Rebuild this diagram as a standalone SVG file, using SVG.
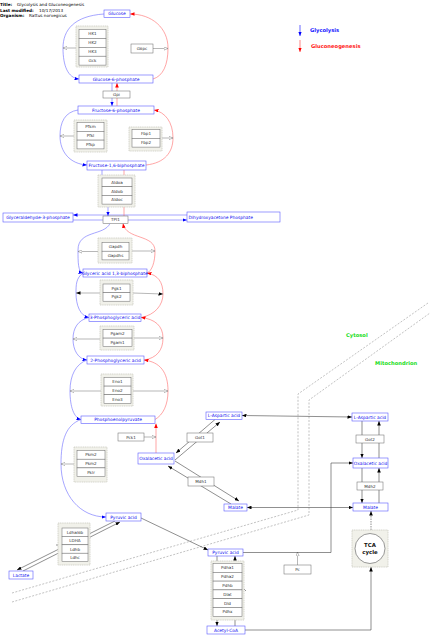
<svg xmlns="http://www.w3.org/2000/svg" width="437" height="641" viewBox="0 0 437 641">
<style>
text{font-family:"DejaVu Sans","Liberation Sans",sans-serif}
.m rect{fill:#fff;stroke:#5a5aff;stroke-width:0.6}
.m text{fill:#1010f0;font-size:4.4px;text-anchor:middle}
.g rect{fill:#fff;stroke:#666;stroke-width:0.5}
.g text{fill:#333;font-size:4.1px;text-anchor:middle}
rect.bg{fill:#f1f1ea;stroke:#cbcbc2;stroke-width:0.8;stroke-dasharray:1.2,0.6}
.b{fill:none;stroke:#6a6aff;stroke-width:0.6}
.r{fill:none;stroke:#ff6a6a;stroke-width:0.6}
.k{fill:none;stroke:#444;stroke-width:0.6}
.c{fill:none;stroke:#888;stroke-width:0.6}
.mem{fill:none;stroke:#999;stroke-width:0.6;stroke-dasharray:2,1.5}
.hdr{font-size:4.2px;fill:#000}
.lb{font-size:5.2px;font-weight:bold}
</style>
<defs>
<marker id="ab" viewBox="0 0 10 8" refX="10" refY="4" markerWidth="4.5" markerHeight="3.6" markerUnits="userSpaceOnUse" orient="auto-start-reverse"><path d="M0,0L10,4L0,8z" fill="#0000ff"/></marker>
<marker id="ar" viewBox="0 0 10 8" refX="10" refY="4" markerWidth="4.5" markerHeight="3.6" markerUnits="userSpaceOnUse" orient="auto-start-reverse"><path d="M0,0L10,4L0,8z" fill="#ff0000"/></marker>
<marker id="ak" viewBox="0 0 10 8" refX="10" refY="4" markerWidth="4.5" markerHeight="3.6" markerUnits="userSpaceOnUse" orient="auto-start-reverse"><path d="M0,0L10,4L0,8z" fill="#000"/></marker>
<marker id="ao" viewBox="-1 -1 12 10" refX="10" refY="4" markerWidth="4.8" markerHeight="4" markerUnits="userSpaceOnUse" orient="auto"><path d="M0,0L10,4L0,8z" fill="#fff" stroke="#666" stroke-width="1"/></marker>
</defs>

<g id="header">
<text class="hdr" x="0" y="6.2"><tspan font-weight="bold">Title:</tspan><tspan x="17">Glycolysis and Gluconeogenesis</tspan></text>
<text class="hdr" x="0" y="11.8"><tspan font-weight="bold">Last modified:</tspan><tspan x="39">10/17/2013</tspan></text>
<text class="hdr" x="0" y="17.3"><tspan font-weight="bold">Organism:</tspan><tspan x="29">Rattus norvegicus</tspan></text>
</g>

<g id="legend">
<line x1="300" y1="25" x2="300" y2="36" stroke="#0000ff" stroke-width="0.6" marker-end="url(#ab)"/>
<text class="lb" x="310" y="31.8" fill="#2020ff">Glycolysis</text>
<line x1="300" y1="40" x2="300" y2="52" stroke="#ff3333" stroke-width="0.6" marker-end="url(#ar)"/>
<text class="lb" x="311" y="47.5" fill="#ff2020">Gluconeogenesis</text>
<text class="lb" x="346" y="337" fill="#22dd22">Cytosol</text>
<text class="lb" x="375" y="365" fill="#22dd22">Mitochondrion</text>
</g>

<g id="membranes">
<path class="mem" d="M12,593 L298,510 L298,394 L428,303"/>
<path class="mem" d="M12,602 L309,515 L309,400 L430,313"/>
</g>

<g id="connectors">
<path class="b" d="M104,14 C74,16 63,30 63,48 C63,66 68,78 79,79" marker-end="url(#ab)"/>
<path class="b" d="M112,83 L112,106" marker-end="url(#ab)"/>
<path class="b" d="M78,110 C65,112 60,122 60,136 C60,152 70,164 87,165" marker-end="url(#ab)"/>
<path class="b" d="M102,170 L102,206 L108,206 L108,216" marker-end="url(#ab)"/>
<path class="b" d="M187,215 L73,215" marker-end="url(#ab)"/>
<path class="b" d="M73,220 L187,220" marker-end="url(#ab)"/>
<path class="b" d="M110,223.5 C104,236 78,230 78,250 C78,262 78,272 83,273" marker-end="url(#ab)"/>
<path class="b" d="M83,273 C76,278 76,285 76,293 C76,305 80,316 89,317.5" marker-end="url(#ab)"/>
<path class="b" d="M89,317.5 C78,320 73,328 73,339 C73,350 78,359 87,360" marker-end="url(#ab)"/>
<path class="b" d="M87,360 C76,364 70,375 70,391 C70,407 74,418 81,419.5" marker-end="url(#ab)"/>
<path class="b" d="M81,419.5 C66,425 61,440 61,464 C61,495 80,517 106,517" marker-end="url(#ab)"/>
<path class="r" d="M153,79 C163,76 168,65 168,48 C168,28 152,14 130,14" marker-end="url(#ar)"/>
<path class="r" d="M117,106 L117,83" marker-end="url(#ar)"/>
<path class="r" d="M146,165 C165,163 173,152 173,138 C173,122 165,112 154,110" marker-end="url(#ar)"/>
<path class="r" d="M124,216 L124,170"/>
<path class="r" d="M147,273 C152,271 155,262 155,251 C155,234 126,240 123,223.5" marker-end="url(#ar)"/>
<path class="r" d="M141,317.5 C155,315 163,305 163,294 C163,282 158,275 147,273" marker-end="url(#ar)"/>
<path class="r" d="M144,360 C157,358 163,350 163,338 C163,326 155,319 141,317.5" marker-end="url(#ar)"/>
<path class="r" d="M155,419.5 C163,415 168,405 168,391 C168,372 160,362 144,360" marker-end="url(#ar)"/>
<path class="r" d="M156,453 L156,423.5" marker-end="url(#ar)"/>
<path class="c" d="M76,48 L63,48" marker-end="url(#ao)"/>
<path class="c" d="M153,48.5 L168,48.5" marker-end="url(#ao)"/>
<path class="c" d="M74,136 L60,136" marker-end="url(#ao)"/>
<path class="c" d="M162,138 L173,138" marker-end="url(#ao)"/>
<path class="c" d="M98,251.5 L78,251.5" marker-end="url(#ao)"/>
<path class="c" d="M132,251 L155,251" marker-end="url(#ao)"/>
<path class="c" d="M100,293 L76,293" marker-end="url(#ak)"/>
<path class="c" d="M133,293 L163,294" marker-end="url(#ak)"/>
<path class="c" d="M100,339 L73,339" marker-end="url(#ao)"/>
<path class="c" d="M134,338 L163,338" marker-end="url(#ao)"/>
<path class="c" d="M101,391 L70,391" marker-end="url(#ao)"/>
<path class="c" d="M133,391 L168,391" marker-end="url(#ao)"/>
<path class="c" d="M74,464 L61,464" marker-end="url(#ao)"/>
<path class="c" d="M144,437 L156,437" marker-end="url(#ao)"/>
<path class="c" d="M297.5,565 L297.5,552" marker-end="url(#ao)"/>
<path class="k" d="M98,191 L100,192.5 M98,193 L100,194.5"/>
<path class="k" d="M56,545 L60,545"/>
<path class="k" d="M244,589 L246,591"/>
<path class="k" d="M23,571 L120,522" marker-end="url(#ak)"/>
<path class="k" d="M115,521 L17,570" marker-end="url(#ak)"/>
<path class="k" d="M175,460 L220,422" marker-end="url(#ak)"/>
<path class="k" d="M215,419.5 L176,453" marker-end="url(#ak)"/>
<path class="k" d="M175,461 L239,501" marker-end="url(#ak)"/>
<path class="k" d="M231,504 L168,466" marker-end="url(#ak)"/>
<path class="k" d="M242,415.5 L352,417" marker-start="url(#ak)" marker-end="url(#ak)"/>
<path class="k" d="M247,507.5 L353,507.5" marker-start="url(#ak)" marker-end="url(#ak)"/>
<path class="k" d="M141,518 L208,550" marker-end="url(#ak)"/>
<path class="k" d="M243,552.5 L331,552.5 L331,463 L353,463" marker-end="url(#ak)"/>
<path class="k" d="M245,630 L371,630 L371,567" marker-end="url(#ak)"/>
<path class="k" d="M371,530 L371,511" stroke-dasharray="1.5,1" marker-end="url(#ak)"/>
<path class="k" d="M362,421 L362,458" marker-end="url(#ak)"/>
<path class="k" d="M379,458 L379,421" marker-end="url(#ak)"/>
<path class="k" d="M362,468 L362,503" marker-end="url(#ak)"/>
<path class="k" d="M379,503 L379,468" marker-end="url(#ak)"/>
<path class="k" d="M217,556 L217,626" marker-end="url(#ak)"/>
<path class="k" d="M235,626 L235,556" marker-end="url(#ak)"/>
</g>

<g id="glucose" class="m"><rect x="104" y="10" width="26" height="7.5"/><text x="117" y="15.3">Glucose</text></g>
<g id="g6p" class="m"><rect x="79" y="75" width="74" height="8"/><text x="116" y="80.5">Glucose-6-phosphate</text></g>
<g id="f6p" class="m"><rect x="78" y="106" width="76" height="8"/><text x="116" y="111.5">Fructose-6-phosphate</text></g>
<g id="f16bp" class="m"><rect x="87" y="161" width="59" height="9"/><text x="116.5" y="167">Fructose-1,6-biphosphate</text></g>
<g id="g3p" class="m"><rect x="3" y="213" width="70" height="9"/><text x="38" y="219">Glyceraldehyde-3-phosphate</text></g>
<g id="dhap" class="m"><rect x="187" y="212" width="93" height="10"/><text x="188.5" y="218.5" style="text-anchor:start">Dihydroxyacetone Phosphate</text></g>
<g id="g13bp" class="m"><rect x="83" y="269" width="64" height="8"/><text x="115" y="274.5">Glyceric acid 1,3-biphosphate</text></g>
<g id="p3g" class="m"><rect x="89" y="314" width="52" height="7.5"/><text x="115" y="319.3">3-Phosphoglyceric acid</text></g>
<g id="p2g" class="m"><rect x="87" y="356" width="57" height="8"/><text x="115.5" y="361.5">2-Phosphoglyceric acid</text></g>
<g id="pep" class="m"><rect x="81" y="416" width="74" height="7.5"/><text x="118" y="421.3">Phosphoenolpyruvate</text></g>
<g id="pyr_c" class="m"><rect x="106" y="513" width="35" height="8"/><text x="123.5" y="518.5">Pyruvic acid</text></g>
<g id="lactate" class="m"><rect x="9" y="571" width="24" height="8"/><text x="21" y="576.5">Lactate</text></g>
<g id="oaa_c" class="m"><rect x="138" y="453" width="36" height="11"/><text x="156" y="460">Oxalacetic acid</text></g>
<g id="asp_c" class="m"><rect x="206" y="412" width="36" height="7.5"/><text x="224" y="417.3">L-Aspartic acid</text></g>
<g id="mal_c" class="m"><rect x="224" y="504" width="23" height="7"/><text x="235.5" y="509">Malate</text></g>
<g id="pyr_m" class="m"><rect x="208" y="549" width="35" height="7"/><text x="225.5" y="554">Pyruvic acid</text></g>
<g id="acoa" class="m"><rect x="207" y="626" width="38" height="8"/><text x="226" y="631.5">Acetyl-CoA</text></g>
<g id="asp_m" class="m"><rect x="352" y="413" width="36" height="8"/><text x="370" y="418.5">L-Aspartic acid</text></g>
<g id="oaa_m" class="m"><rect x="353" y="458" width="35" height="10"/><text x="370.5" y="464.5">Oxalacetic acid</text></g>
<g id="mal_m" class="m"><rect x="353" y="503" width="35" height="8"/><text x="370.5" y="508.5">Malate</text></g>

<g id="gpi" class="g"><rect x="103" y="91" width="27" height="7"/><text x="116.5" y="96">Gpi</text></g>
<g id="g6pc" class="g"><rect x="131" y="44" width="22" height="9"/><text x="142" y="50">G6pc</text></g>
<g id="tpi1" class="g"><rect x="103" y="216" width="25" height="7.5"/><text x="115.5" y="221.3">TPI1</text></g>
<g id="pck1" class="g"><rect x="118" y="433" width="26" height="8"/><text x="131" y="438.5">Pck1</text></g>
<g id="got1" class="g"><rect x="187" y="433" width="26" height="9"/><text x="200" y="439">Got1</text></g>
<g id="mdh1" class="g"><rect x="188" y="477" width="26" height="9"/><text x="201" y="483">Mdh1</text></g>
<g id="got2" class="g"><rect x="356" y="435" width="28" height="8"/><text x="370" y="440.5">Got2</text></g>
<g id="mdh2" class="g"><rect x="357" y="482" width="26" height="8"/><text x="370" y="487.5">Mdh2</text></g>
<g id="pc" class="g"><rect x="284" y="565" width="27" height="9"/><text x="297.5" y="571">Pc</text></g>

<g id="hk" class="g"><rect class="bg" x="76" y="26" width="32" height="41"/>
<rect x="79" y="29.5" width="27" height="8.9"/><text x="92.5" y="35.4">HK1</text>
<rect x="79" y="38.4" width="27" height="8.9"/><text x="92.5" y="44.3">HK2</text>
<rect x="79" y="47.3" width="27" height="8.9"/><text x="92.5" y="53.2">HK3</text>
<rect x="79" y="56.2" width="27" height="8.9"/><text x="92.5" y="62.1">Gck</text></g>
<g id="pfk" class="g"><rect class="bg" x="74" y="120" width="33" height="32"/>
<rect x="77" y="122.5" width="27" height="8.8"/><text x="90.5" y="128.4">Pfkm</text>
<rect x="77" y="131.3" width="27" height="8.8"/><text x="90.5" y="137.2">Pfkl</text>
<rect x="77" y="140.1" width="27" height="8.8"/><text x="90.5" y="146">Pfkp</text></g>
<g id="fbp" class="g"><rect class="bg" x="129" y="127" width="33" height="24"/>
<rect x="132" y="129.5" width="28" height="8.8"/><text x="146" y="135.4">Fbp1</text>
<rect x="132" y="138.3" width="28" height="8.8"/><text x="146" y="144.2">Fbp2</text></g>
<g id="aldo" class="g"><rect class="bg" x="98" y="175" width="37" height="32"/>
<rect x="102" y="178" width="30" height="8.7"/><text x="117" y="183.8">Aldoa</text>
<rect x="102" y="186.7" width="30" height="8.7"/><text x="117" y="192.5">Aldob</text>
<rect x="102" y="195.4" width="30" height="8.7"/><text x="117" y="201.2">Aldoc</text></g>
<g id="gapdh" class="g"><rect class="bg" x="98" y="238" width="34" height="25"/>
<rect x="102" y="242.5" width="27" height="8.7"/><text x="115.5" y="248.3">Gapdh</text>
<rect x="102" y="251.2" width="27" height="8.7"/><text x="115.5" y="257">Gapdhs</text></g>
<g id="pgk" class="g"><rect class="bg" x="100" y="280" width="33" height="25"/>
<rect x="103" y="284" width="27" height="8.6"/><text x="116.5" y="289.8">Pgk1</text>
<rect x="103" y="292.6" width="27" height="8.6"/><text x="116.5" y="298.4">Pgk2</text></g>
<g id="pgam" class="g"><rect class="bg" x="100" y="326" width="34" height="24"/>
<rect x="103" y="329.5" width="29" height="8.6"/><text x="117.5" y="335.3">Pgam2</text>
<rect x="103" y="338.1" width="29" height="8.6"/><text x="117.5" y="343.9">Pgam1</text></g>
<g id="eno" class="g"><rect class="bg" x="101" y="374" width="32" height="32"/>
<rect x="104" y="377.5" width="27" height="8.6"/><text x="117.5" y="383.3">Eno1</text>
<rect x="104" y="386.1" width="27" height="8.6"/><text x="117.5" y="391.9">Eno2</text>
<rect x="104" y="394.7" width="27" height="8.6"/><text x="117.5" y="400.5">Eno3</text></g>
<g id="pkm" class="g"><rect class="bg" x="74" y="447" width="33" height="35"/>
<rect x="77" y="450.5" width="28" height="8.7"/><text x="91" y="456.3">Pkm2</text>
<rect x="77" y="459.2" width="28" height="8.7"/><text x="91" y="465">Pkm2</text>
<rect x="77" y="467.9" width="28" height="8.7"/><text x="91" y="473.7">Pklr</text></g>
<g id="ldh" class="g"><rect class="bg" x="58" y="523" width="32" height="42"/>
<rect x="62" y="528" width="26" height="8.4"/><text x="75" y="533.7">Ldhal6b</text>
<rect x="62" y="536.4" width="26" height="8.4"/><text x="75" y="542.1">LDHA</text>
<rect x="62" y="544.8" width="26" height="8.4"/><text x="75" y="550.5">Ldhb</text>
<rect x="62" y="553.2" width="26" height="8.4"/><text x="75" y="558.9">Ldhc</text></g>
<g id="pdh" class="g"><rect class="bg" x="211" y="561" width="33" height="59"/>
<rect x="213" y="563.5" width="29" height="8.8"/><text x="227.5" y="569.4">Pdha1</text>
<rect x="213" y="572.3" width="29" height="8.8"/><text x="227.5" y="578.2">Pdha2</text>
<rect x="213" y="581.1" width="29" height="8.8"/><text x="227.5" y="587">Pdhb</text>
<rect x="213" y="589.9" width="29" height="8.8"/><text x="227.5" y="595.8">Dlat</text>
<rect x="213" y="598.7" width="29" height="8.8"/><text x="227.5" y="604.6">Dld</text>
<rect x="213" y="607.5" width="29" height="8.8"/><text x="227.5" y="613.4">Pdhx</text></g>
<g id="tca"><rect class="bg" x="352" y="530" width="36" height="37"/>
<circle cx="370" cy="548.5" r="15" fill="#fff" stroke="#555" stroke-width="0.6"/>
<text x="370" y="547.3" font-size="5.4" font-weight="bold" text-anchor="middle" fill="#111">TCA</text>
<text x="370" y="553.6" font-size="5.4" font-weight="bold" text-anchor="middle" fill="#111">cycle</text></g>
</svg>
